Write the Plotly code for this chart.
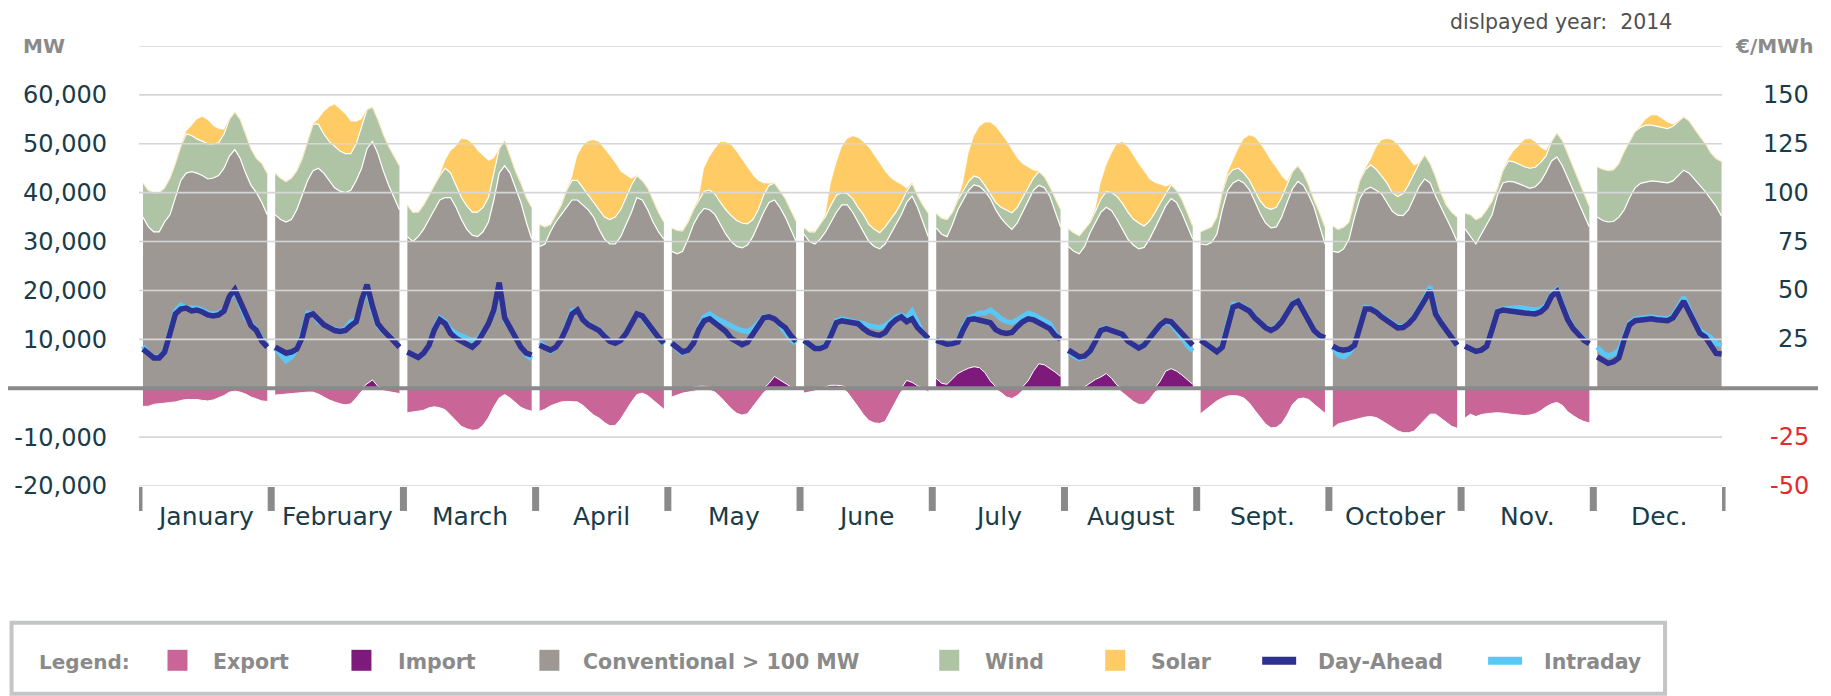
import plotly.graph_objects as go

# ---------------- data (thousand MW / EUR per MWh) ----------------
months = ["January", "February", "March", "April", "May", "June",
          "July", "August", "Sept.", "October", "Nov.", "Dec."]
hours = list(range(24))

conventional_kmw = [
    [35, 33, 32, 32, 34, 35.5, 39, 42.5, 44, 44.3, 44, 43.5, 42.8, 43, 43.5, 45, 47.5, 48.8, 47, 44, 41.5, 40, 38, 35.5],
    [35.5, 34.5, 34, 34.5, 36.5, 39.5, 42.5, 44.5, 45, 44, 42.5, 41, 40.3, 40, 40.5, 42.5, 45, 49, 50.5, 48, 44.5, 41.5, 39, 36.5],
    [31, 30, 31, 32.5, 34.5, 36.5, 38.5, 39, 39, 37, 34.5, 32.5, 31.3, 31, 32, 34, 38.5, 44, 45.5, 44, 41, 38, 34, 30.5],
    [29, 29.5, 32, 34, 35.5, 37, 38.5, 38.5, 37.5, 36.5, 35, 32.5, 30.5, 29.5, 29.5, 31, 33.5, 36, 39, 38.5, 36.5, 34, 32, 30.5],
    [28, 27.5, 28, 30.5, 33.5, 35.5, 36.8, 36.5, 35.5, 33.5, 31.5, 30, 29, 28.7, 29.3, 31, 33.5, 36, 38, 38.5, 37, 35, 32.5, 30],
    [31.5, 30, 29.5, 30.5, 32, 34, 36, 37.5, 37.5, 36, 34, 32, 30, 29, 28.5, 29.5, 31.5, 33.5, 35.5, 38, 39.3, 37, 34, 31],
    [32.8, 31.5, 31, 33.5, 36.5, 38.5, 40.5, 41.6, 41.3, 40.3, 38.8, 36.5, 34.8, 33.5, 32.5, 33.8, 36, 38.5, 40.5, 41.5, 41, 39.3, 36, 33],
    [29, 28, 27.5, 29, 31.8, 34, 36, 37, 36.3, 34.5, 32.5, 30.5, 29.3, 28.5, 28.8, 30.5, 32.7, 35, 37.3, 38.8, 38, 35.8, 33, 30.5],
    [29.5, 29.3, 29.8, 31.5, 36.5, 40.5, 42, 42.6, 42, 40.6, 38.3, 35.8, 33.8, 32.8, 33, 35, 38, 40.8, 42.3, 41.5, 39.5, 37, 33.2, 29.5],
    [28, 27.8, 28.5, 30.5, 35, 38.8, 40.6, 41.1, 40.5, 39.8, 38, 36.2, 35.4, 35.3, 36.5, 39, 41.3, 42.8, 42, 39.3, 37, 35, 32.5, 30],
    [32.6, 31, 29.5, 31.5, 33.5, 35.5, 39.5, 42, 42.3, 42.2, 41.8, 41.3, 40.9, 41.2, 42.3, 44.2, 46.5, 47.3, 45.5, 43, 40.5, 38.2, 35.8, 33],
    [35, 34.3, 34, 34.1, 35, 36.5, 39, 41, 41.9, 42.2, 42.4, 42.3, 42.1, 42, 42.4, 43.5, 44.6, 44, 42.8, 41.5, 40.2, 38.7, 37.2, 35.2],
]

wind_kmw = [
    [7, 7.5, 8, 8, 7, 7.5, 7, 7, 8, 7.4, 7, 7, 7.2, 7, 6.7, 7, 7.5, 7.7, 8, 8, 7.5, 7, 8, 8.5],
    [8.5, 8.5, 8.3, 8.5, 8, 7.5, 8, 9.5, 9, 8, 8, 8.5, 8.2, 8, 7.5, 7.5, 8.5, 8, 7, 7, 7.5, 8, 8.5, 9],
    [6.5, 6, 5, 5, 5, 5, 5, 6, 5, 4.5, 4.5, 4.8, 4.7, 5, 5, 5, 5.5, 5, 5.2, 3.5, 3.5, 4, 5, 6.5],
    [4.5, 3.5, 1.5, 1.5, 2, 3.5, 4, 4, 3.5, 3, 3, 4, 4.5, 5, 5.5, 5.5, 5.5, 5.5, 4.5, 4, 4.5, 4.5, 4, 3.5],
    [4.8, 4.8, 4.2, 3.5, 3, 3, 3.5, 4, 4.2, 4.5, 5, 5.3, 5.3, 5.1, 4.3, 3.5, 3, 3.5, 3.5, 3.5, 3.5, 3.8, 4, 4.2],
    [1.3, 2, 2.5, 3, 3.2, 3.5, 3.5, 2.5, 2.3, 2.8, 3, 3.5, 3.5, 3.5, 3.3, 3.5, 3, 2.5, 2.5, 2.3, 2.7, 2.5, 3.5, 4.8],
    [3, 3.3, 3.5, 2.5, 2, 2, 1.8, 1.8, 1.7, 1.2, 1, 1.5, 2.2, 3, 3.4, 3.2, 3, 2.5, 2.5, 2.8, 2.3, 2, 3, 3.6],
    [3.6, 3.8, 3.7, 3.5, 2.1, 2.2, 2.7, 3.2, 3.7, 4.7, 5.3, 5.5, 5.3, 5.3, 4.4, 3.7, 3.2, 2.9, 2.6, 2.8, 2.5, 2.8, 3, 2.7],
    [2.5, 3.2, 3.2, 3.5, 3.5, 3, 2.7, 2.4, 2, 2, 2.2, 2.5, 3.2, 3.8, 4, 4, 3.6, 3.5, 3.2, 2.5, 2, 1.5, 2.8, 3.5],
    [5.2, 4.7, 4.5, 3.5, 3.5, 3.7, 4.1, 4.6, 4.3, 3.7, 4, 3.8, 3.8, 4.5, 5.1, 4.8, 4.7, 4.9, 4, 4, 3, 2.5, 3.5, 5],
    [3.2, 4.5, 5, 3.5, 3, 2.8, 1.5, 2.5, 4.2, 4.1, 4, 4, 4.1, 4, 3.9, 3.3, 4, 4.9, 5.2, 5, 4.5, 4.3, 4.2, 4.2],
    [10.3, 10.5, 10.5, 10.6, 11, 12, 11.5, 11.5, 11.5, 11.6, 11.4, 11.3, 11.2, 11.1, 11.2, 11.1, 10.9, 10.7, 10.2, 10, 9.9, 9.5, 9.8, 11.2],
]

solar_kmw = [
    [0, 0, 0, 0, 0, 0, 0, 0, 0.5, 2, 4, 5, 4.8, 3.6, 2.8, 0.8, 0, 0, 0, 0, 0, 0, 0, 0],
    [0, 0, 0, 0, 0, 0, 0, 0, 1, 4.5, 7, 8.5, 8.5, 8, 6.5, 4.5, 1.5, 0, 0, 0, 0, 0, 0, 0],
    [0, 0, 0, 0, 0, 0, 0, 1.5, 4.5, 8, 12, 13.5, 14, 12.5, 10.5, 7.5, 3, 0, 0, 0, 0, 0, 0, 0],
    [0, 0, 0, 0, 0, 0, 0.5, 5, 8.5, 11, 12.7, 13.8, 14, 13, 11, 7.8, 4.5, 1.3, 0, 0, 0, 0, 0, 0],
    [0, 0, 0, 0, 0, 0.3, 4.7, 6.8, 9.3, 12.3, 13.8, 14.4, 14, 12.9, 11.4, 9, 5.9, 2.4, 0.3, 0, 0, 0, 0, 0],
    [0, 0, 0, 0, 0.3, 4.5, 6.5, 9.3, 11.2, 12.7, 14.2, 14.8, 15.7, 15.1, 14, 11.3, 8.5, 6.2, 3.6, 0.5, 0, 0, 0, 0],
    [0, 0, 0, 0, 0, 1.5, 5.7, 8.1, 10.5, 12.8, 14.5, 15.5, 15, 14, 12.8, 10, 6.8, 4.2, 1.5, 0, 0, 0, 0, 0],
    [0, 0, 0, 0, 0, 0.3, 3.3, 5.3, 8, 10.8, 12.5, 13.3, 12.9, 12, 11.1, 8.5, 6.1, 3.7, 1.3, 0, 0, 0, 0, 0],
    [0, 0, 0, 0, 0, 0.5, 1.8, 4, 7, 9.1, 10.8, 11.7, 11.3, 9.9, 8, 4.3, 0.6, 0, 0, 0, 0, 0, 0, 0],
    [0, 0, 0, 0, 0, 0, 0.2, 1, 4.4, 7.2, 9, 10.7, 10.6, 8.5, 5.4, 1.7, 0, 0, 0, 0, 0, 0, 0, 0],
    [0, 0, 0, 0, 0, 0, 0, 0, 0.3, 2.2, 3.8, 5.5, 6, 5.1, 3, 1, 0, 0, 0, 0, 0, 0, 0, 0],
    [0, 0, 0, 0, 0, 0, 0, 0, 0.2, 1.2, 2, 2.2, 1.8, 1.2, 0.3, 0, 0, 0, 0, 0, 0, 0, 0, 0],
]

export_kmw = [
    [-3.7, -3.7, -3.3, -3.2, -3.0, -3.0, -2.8, -2.5, -2.3, -2.3, -2.3, -2.5, -2.6, -2.4, -2.0, -1.5, -0.8, -0.6, -0.8, -1.2, -1.8, -2.2, -2.6, -2.7],
    [-1.4, -1.3, -1.2, -1.0, -1.0, -0.9, -0.8, -0.8, -1.2, -1.8, -2.4, -2.8, -3.2, -3.4, -3.2, -2.0, -0.6, 0, 0, -0.3, -0.5, -0.7, -0.9, -1.1],
    [-5.0, -4.9, -4.7, -4.5, -4.0, -3.8, -4.0, -4.4, -5.5, -6.8, -7.8, -8.3, -8.6, -8.5, -7.6, -6.0, -3.8, -2.0, -1.3, -2.0, -3.0, -3.9, -4.4, -4.7],
    [-4.7, -4.3, -3.6, -3.2, -2.8, -2.7, -2.7, -2.8, -3.5, -4.5, -5.5, -6.1, -7.0, -7.7, -7.6, -6.3, -4.5, -2.8, -1.3, -1.0, -1.5, -2.5, -3.5, -4.3],
    [-1.8, -1.4, -1.0, -0.8, -0.6, -0.3, -0.2, -0.4, -0.8, -1.8, -3.0, -4.2, -5.1, -5.5, -5.2, -3.7, -2.2, -0.9, 0, 0, 0, 0, 0, -0.3],
    [-1.0, -0.8, -0.6, -0.3, 0, 0, 0, 0, -0.8, -2.2, -3.8, -5.4, -6.6, -7.1, -7.2, -6.8, -4.8, -2.5, -0.6, 0, 0, 0, -0.2, -0.7],
    [0, 0, 0, 0, 0, 0, 0, 0, 0, 0, 0, -0.2, -0.9, -1.8, -2.1, -1.5, -0.4, 0, 0, 0, 0, 0, 0, 0],
    [-0.3, -0.5, -0.3, 0, 0, 0, 0, 0, 0, 0, -0.9, -1.8, -2.7, -3.3, -3.3, -2.3, -0.8, 0, 0, 0, 0, 0, 0, 0],
    [-5.2, -4.3, -3.5, -2.6, -2.0, -1.6, -1.5, -1.6, -2.0, -3.0, -4.5, -6.0, -7.3, -8.1, -8.0, -7.2, -5.5, -3.3, -2.2, -2.0, -2.3, -3.3, -4.3, -5.1],
    [-8.1, -7.3, -7.0, -6.7, -6.4, -6.1, -5.9, -5.8, -6.0, -6.6, -7.3, -8.0, -8.7, -9.1, -9.1, -8.8, -7.6, -6.3, -5.3, -5.3, -6.1, -7.0, -7.8, -8.2],
    [-6.1, -5.3, -5.8, -5.4, -5.2, -5.1, -5.0, -5.1, -5.3, -5.4, -5.5, -5.6, -5.5, -5.2, -4.6, -3.8, -3.2, -2.9, -3.5, -4.8, -5.6, -6.3, -6.8, -7.1],
    [0] * 24,
]

import_kmw = [
    [0] * 24,
    [0, 0, 0, 0, 0, 0, 0, 0, 0, 0, 0, 0, 0, 0, 0, 0, 0, 0.9, 1.7, 0.4, 0, 0, 0, 0],
    [0] * 24,
    [0] * 24,
    [0, 0, 0, 0, 0.2, 0.4, 0.4, 0.2, 0, 0, 0, 0, 0, 0, 0, 0, 0, 0, 1.0, 2.4, 1.7, 1.0, 0.3, 0],
    [0, 0, 0, 0, 0.3, 0.6, 0.6, 0.5, 0.1, 0, 0, 0, 0, 0, 0, 0, 0, 0, 0, 1.6, 1.2, 0.5, 0, 0],
    [2.0, 1.0, 0.8, 2.0, 3.0, 3.6, 4.1, 4.4, 4.2, 3.2, 1.5, 0.3, 0, 0, 0, 0, 0.3, 1.5, 3.5, 5.0, 4.8, 4.1, 3.3, 2.4],
    [0, 0, 0, 0.3, 1.0, 1.8, 2.3, 3.0, 2.0, 0.6, 0, 0, 0, 0, 0, 0, 0, 1.5, 3.5, 4.0, 3.5, 2.7, 1.8, 0.8],
    [0] * 24,
    [0] * 24,
    [0] * 24,
    [0] * 24,
]

day_ahead_eur = [
    [20, 18, 15.5, 15.5, 18.5, 28, 38, 40.5, 41, 39.5, 40, 39, 37.5, 37, 37.5, 39.5, 47, 50.5, 44, 37, 32, 29.5, 24, 21],
    [21, 19.5, 18, 18.5, 20, 26, 37, 38, 35, 32.5, 31, 29.5, 29, 29.5, 32, 34, 45, 53, 42, 33, 29.5, 27, 24, 21],
    [18.5, 17, 15.7, 18, 22, 30, 35, 33, 28, 25.5, 24, 22.5, 21, 23.5, 28, 33, 40, 54, 36, 31, 26, 21, 18, 17],
    [22, 20.5, 19.5, 21, 25, 31, 38, 40, 35, 32.5, 31, 29.5, 26.5, 24, 23, 24.5, 28, 33, 38, 37, 33, 29, 26, 23],
    [23, 21, 18.6, 19.5, 23, 30, 34.5, 35.5, 33.5, 31.5, 29, 25.5, 23.5, 22.3, 23.5, 27.5, 32, 36, 36.5, 35.5, 33, 31, 27, 24],
    [24.5, 22, 20.3, 20.3, 21.5, 27, 33.5, 34.5, 34, 33, 33, 30.5, 28.5, 27.5, 27, 28.5, 32.5, 35, 36.5, 34, 35.5, 31, 28, 25.5],
    [24.5, 23.5, 22.5, 22.8, 23.6, 30, 35, 35.5, 35, 34, 33.5, 30, 28.5, 28, 28.5, 31.5, 34, 35.5, 35, 33.5, 32, 30.5, 27, 25],
    [19.5, 17.5, 16, 16.5, 19, 24, 29.5, 30.5, 29.5, 28.5, 27.5, 24, 22, 20.5, 22, 25, 29, 32.5, 34.5, 34, 31, 27, 24.5, 22],
    [24.5, 22.5, 20, 18.6, 21, 32, 41.5, 42.5, 41, 39.5, 36, 33, 31, 29.6, 31, 34, 38.5, 43, 44.5, 39, 34, 29.5, 27, 25.8],
    [21.5, 20, 19.4, 20, 22, 32, 40.5, 40.5, 39, 36.5, 34.5, 32.5, 30.8, 31, 33, 36, 40, 45, 50, 38, 33.5, 29.5, 25.5, 22],
    [21.5, 20, 18.8, 19.5, 21.5, 30, 39, 40, 39.8, 39.3, 39, 38.5, 38.2, 38, 39, 41.5, 47, 49.5, 42, 35, 30.5, 27, 24.5, 22.8],
    [16, 14, 12.7, 13.5, 15.5, 25, 32.5, 34.5, 35, 35.5, 35.5, 35, 34.5, 34.5, 36, 40.5, 44.5, 39, 33, 28, 26.2, 22, 17.8, 17.5],
]

intraday_eur = [
    [21.5, 18, 16, 16, 19, 30, 39.5, 42.5, 41, 41, 41, 40, 38.5, 38, 38.5, 40, 46, 50, 43, 36, 33, 30, 25, 22],
    [20.5, 17, 14, 16, 20, 28, 38.5, 38, 34, 32.5, 31, 30, 29.5, 30.5, 34, 35, 44, 51, 40, 32, 29, 27, 24, 21.5],
    [18.5, 17, 15.7, 18, 22, 31, 36, 34, 30, 28, 27, 25.5, 24.5, 25, 28.5, 33, 39, 52, 35, 31, 26, 21, 17, 15],
    [23.5, 21, 19, 21, 25, 32, 39.5, 40, 35, 33, 31, 30, 26.5, 24, 23, 24.5, 28, 33.5, 37.5, 36.5, 32.5, 29, 25.5, 22.5],
    [23.5, 20, 18, 19.5, 23, 31, 36.5, 38, 36, 34.5, 33.5, 32, 30.5, 29.5, 29, 30.5, 34, 36.5, 36.5, 35.5, 32.5, 29, 25, 23],
    [24, 22.5, 20.5, 21, 22, 28, 34.5, 35.5, 35, 34.5, 34, 33, 32, 31.5, 31, 32, 34, 36.5, 37.5, 36, 39.5, 33, 28, 25],
    [25, 23.5, 22.5, 23, 24, 31.5, 36, 37, 38.5, 38.5, 40, 38, 35.5, 34, 33.5, 35, 37, 38.5, 37.5, 36, 35, 33, 28, 25],
    [19, 16.5, 15, 16, 19, 24.5, 30, 31, 29.5, 28.5, 27, 24, 22, 21, 22.5, 25.5, 29, 32, 34, 33, 29.5, 25.5, 22, 19],
    [25, 22.5, 20, 19, 22, 33, 43, 43, 41.5, 40, 36.5, 33, 31.5, 30, 31.5, 34.5, 39, 43.5, 45, 39.5, 34, 29.5, 26.5, 25],
    [21, 17, 16, 18, 22, 33, 41.5, 41, 39.5, 37, 35, 33, 31.5, 31.5, 33.5, 36.5, 41, 46, 52, 39, 33.5, 29.5, 25.5, 22],
    [21.5, 20, 18.8, 19.5, 21.5, 30.5, 39.5, 40.5, 40.5, 41, 41.3, 41, 40.5, 40, 40.5, 42.5, 48, 50.5, 43, 36, 31, 28, 25, 23.5],
    [21, 18, 16.5, 17.5, 19.5, 27, 33.5, 35.5, 36, 36.5, 36.5, 36, 35.5, 35.5, 37, 41.5, 46.5, 40.5, 34, 29.5, 27.5, 26, 23, 22],
]

mw_ticks = [-20000, -10000, 10000, 20000, 30000, 40000, 50000, 60000]
eur_ticks = [-50, -25, 25, 50, 75, 100, 125, 150]
legend_items = ["Export", "Import", "Conventional > 100 MW", "Wind", "Solar", "Day-Ahead", "Intraday"]

# ---------------- styles ----------------
C_EXPORT = "#c96597"
C_IMPORT = "#7e1a7b"
C_CONV = "#9e9894"
C_WIND = "#aec4a4"
C_SOLAR = "#fecb64"
C_DA = "#2e3192"
C_ID = "#5bc7f7"
C_GRID = "#d6d6d6"
C_TEAL = "#193c48"
C_RED = "#e52a2d"
C_GRAYTXT = "#8a8a8a"
FONT = "DejaVu Sans"

# the page body adds an 8 px offset; all placements below are given in screen pixels
OFF = 8
W, H = 1831 - OFF, 696 - OFF
PLOT_L, PLOT_R, PLOT_T, PLOT_B = 138.5, 1725.5, 45.5, 486.0   # screen px of plot area
PAPER_R = 1818
ML = PLOT_L - OFF
MT = PLOT_T - OFF
MB = H - (PLOT_B - OFF)
MR = W - (PAPER_R - OFF)
PW = W - ML - MR
PH = H - MT - MB
DOM = (PLOT_R - PLOT_L) / PW


def xp(sx):
    return (sx - OFF - ML) / PW


def yp(sy):
    return (H - MB - (sy - OFF)) / PH


def xpos(m, h):
    return m + 0.03 + h * 0.94 / 23


fig = go.Figure()

for m in range(12):
    xs = [xpos(m, h) for h in hours]
    fig.add_trace(go.Scatter(x=xs, y=[v * 1000 for v in export_kmw[m]], mode="lines", fill="tozeroy",
                             fillcolor=C_EXPORT, line=dict(color="white", width=1), hoverinfo="skip"))
    sg = f"stack{m}"
    fig.add_trace(go.Scatter(x=xs, y=[v * 1000 for v in conventional_kmw[m]], mode="lines", stackgroup=sg,
                             fillcolor=C_CONV, line=dict(color="white", width=1.2), hoverinfo="skip"))
    fig.add_trace(go.Scatter(x=xs, y=[v * 1000 for v in wind_kmw[m]], mode="lines", stackgroup=sg,
                             fillcolor=C_WIND, line=dict(color="white", width=1.2), hoverinfo="skip"))
    fig.add_trace(go.Scatter(x=xs, y=[v * 1000 for v in solar_kmw[m]], mode="lines", stackgroup=sg,
                             fillcolor=C_SOLAR, line=dict(color=C_SOLAR, width=0.5), hoverinfo="skip"))
    if any(v > 0 for v in import_kmw[m]):
        fig.add_trace(go.Scatter(x=xs, y=[v * 1000 for v in import_kmw[m]], mode="lines", fill="tozeroy",
                                 fillcolor=C_IMPORT, line=dict(color="white", width=1), hoverinfo="skip"))

# price lines (secondary axis)
for series, color, width in ((intraday_eur, C_ID, 5), (day_ahead_eur, C_DA, 5.5)):
    lx, ly = [], []
    for m in range(12):
        lx += [xpos(m, h) for h in hours] + [None]
        ly += series[m] + [None]
    fig.add_trace(go.Scatter(x=lx, y=ly, yaxis="y2", mode="lines", line=dict(color=color, width=width),
                             hoverinfo="skip", connectgaps=False))

shapes = []
for v in [-20000, -10000, 10000, 20000, 30000, 40000, 50000, 60000, 70000]:
    shapes.append(dict(type="line", xref="x", yref="y", x0=-0.026, x1=11.974, y0=v, y1=v,
                       line=dict(color=C_GRID, width=1.6), layer="above"))
shapes.append(dict(type="line", xref="paper", yref="y", x0=xp(0), x1=xp(1818), y0=0, y1=0,
                   line=dict(color="#8a8a8a", width=4), layer="above"))
for m in range(13):
    shapes.append(dict(type="line", xref="x", yref="paper", x0=m, x1=m, y0=yp(487), y1=yp(511),
                       line=dict(color="#8a8a8a", width=7)))

annotations = []
for m, name in enumerate(months):
    annotations.append(dict(x=m + 0.5, xref="x", y=yp(517), yref="paper", text=name, showarrow=False,
                            xanchor="center", yanchor="middle",
                            font=dict(family=FONT, size=25, color=C_TEAL)))

# right-hand price labels
for v in eur_ticks:
    annotations.append(dict(x=xp(1811), xref="paper", y=v, yref="y2", text=str(v), showarrow=False,
                            xanchor="right", yanchor="middle",
                            font=dict(family=FONT, size=24, color=C_RED if v < 0 else C_TEAL)))

annotations.append(dict(x=xp(20), y=yp(45), xref="paper", yref="paper", text="<b>MW</b>", showarrow=False,
                        xanchor="left", yanchor="middle", font=dict(family=FONT, size=20, color=C_GRAYTXT)))
annotations.append(dict(x=xp(1815), y=yp(46), xref="paper", yref="paper", text="<b>€/MWh</b>", showarrow=False,
                        xanchor="right", yanchor="middle", font=dict(family=FONT, size=20, color=C_GRAYTXT)))
annotations.append(dict(x=xp(1674), y=yp(21), xref="paper", yref="paper", text="dislpayed year:\u00a0 2014",
                        showarrow=False, xanchor="right", yanchor="middle",
                        font=dict(family=FONT, size=20.5, color="#505050")))

# legend box
shapes.append(dict(type="rect", xref="paper", yref="paper", x0=xp(11), x1=xp(1665), y0=yp(623), y1=yp(694),
                   line=dict(color="#c3c5c7", width=4), fillcolor="white"))
annotations.append(dict(x=xp(36), y=yp(662), xref="paper", yref="paper", text="<b>Legend:</b>", showarrow=False,
                        xanchor="left", yanchor="middle", font=dict(family=FONT, size=20, color=C_GRAYTXT)))
swatch_x = [167, 351, 539, 939, 1105, 1262, 1488]
text_x = [211, 396, 581, 983, 1149, 1316, 1542]
swatch_c = [C_EXPORT, C_IMPORT, C_CONV, C_WIND, C_SOLAR, C_DA, C_ID]
for i, name in enumerate(legend_items):
    if i < 5:
        shapes.append(dict(type="rect", xref="paper", yref="paper", x0=xp(swatch_x[i]), x1=xp(swatch_x[i] + 20),
                           y0=yp(671), y1=yp(650), line=dict(width=0), fillcolor=swatch_c[i]))
    else:
        shapes.append(dict(type="rect", xref="paper", yref="paper", x0=xp(swatch_x[i]), x1=xp(swatch_x[i] + 34),
                           y0=yp(665), y1=yp(657), line=dict(width=0), fillcolor=swatch_c[i]))
    annotations.append(dict(x=xp(text_x[i]), y=yp(662), xref="paper", yref="paper", text=f"<b>{name}</b>",
                            showarrow=False, xanchor="left", yanchor="middle",
                            font=dict(family=FONT, size=20.5, color=C_GRAYTXT)))

fig.update_layout(
    template="none",
    width=W, height=H,
    margin=dict(l=ML, r=MR, t=MT, b=MB, pad=0),
    paper_bgcolor="white", plot_bgcolor="white",
    showlegend=False,
    font=dict(family=FONT, color=C_TEAL),
    xaxis=dict(domain=[0, DOM], range=[0, 12], showgrid=False, zeroline=False, showline=False,
               showticklabels=False, ticks="", fixedrange=True),
    yaxis=dict(range=[-20000, 70000], tickvals=mw_ticks, ticktext=[f"{v:,}" for v in mw_ticks],
               showgrid=False, zeroline=False, showline=False, ticks="", automargin=False,
               tickfont=dict(family=FONT, size=24, color=C_TEAL), ticklabelstandoff=31),
    yaxis2=dict(range=[-50, 175], overlaying="y", side="right", anchor="x",
                showticklabels=False, showgrid=False, zeroline=False, showline=False, ticks="",
                automargin=False),
    shapes=shapes,
    annotations=annotations,
)

fig.write_html("out.html", config={"displayModeBar": False})
